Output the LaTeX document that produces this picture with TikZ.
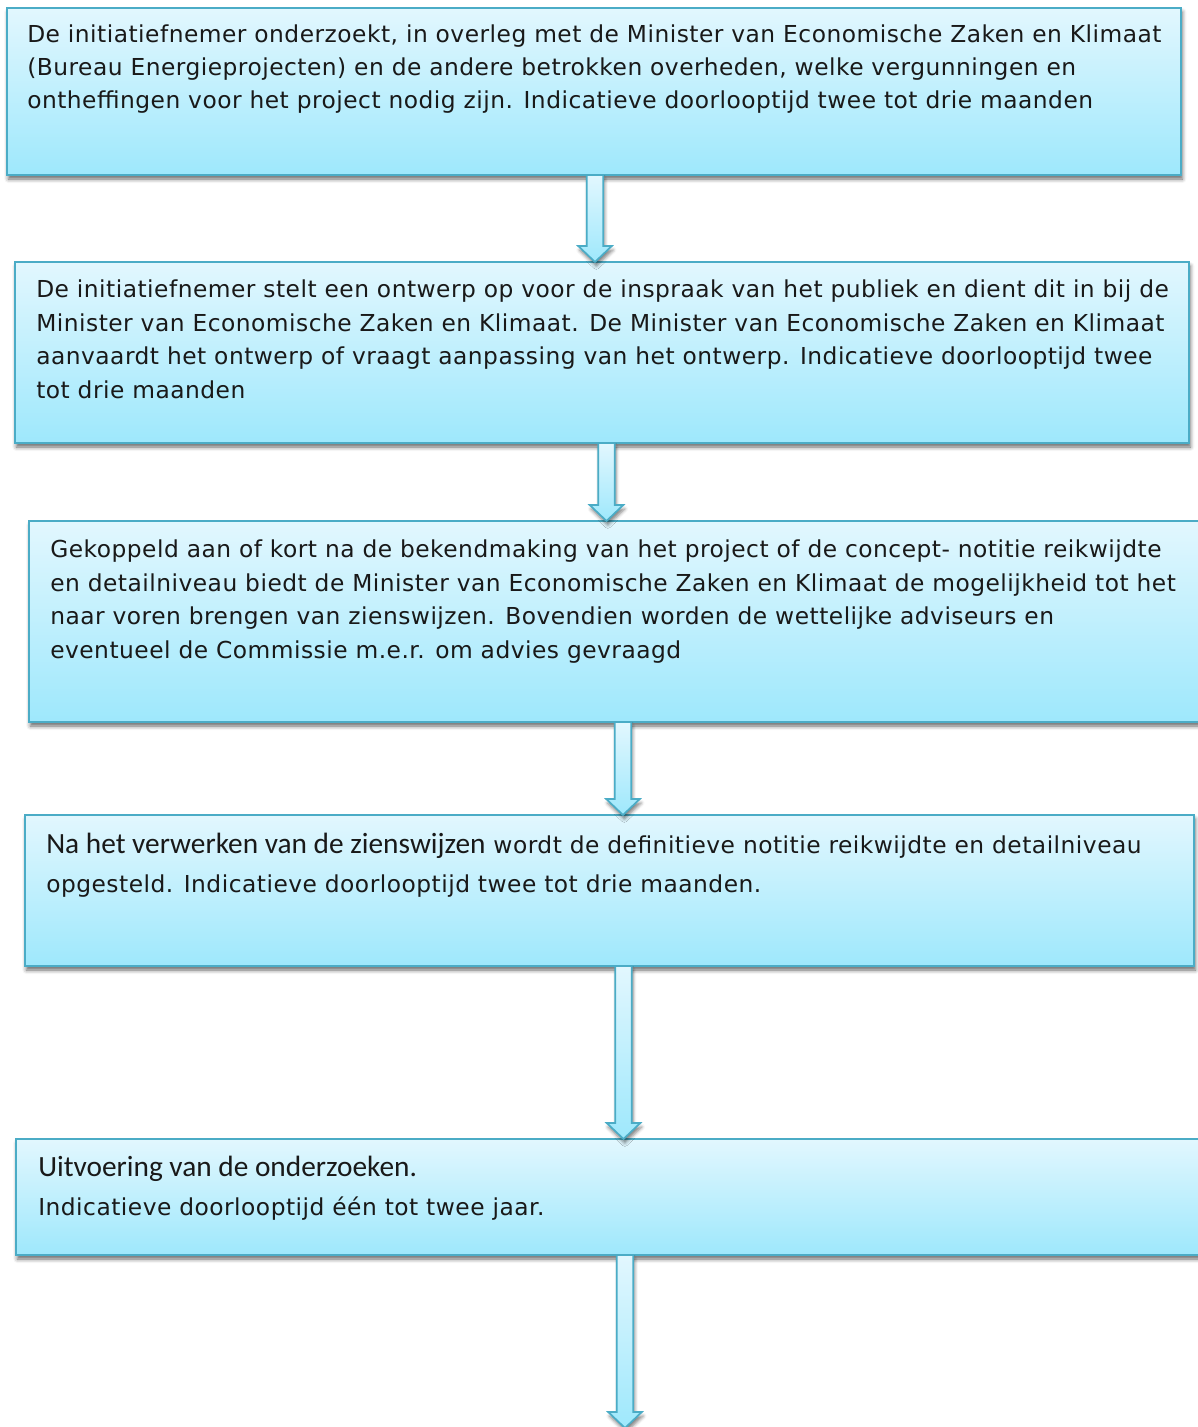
\documentclass[tikz,border=0pt]{standalone}
\usepackage{fontspec}
\setmainfont[LetterSpace=2.1]{DejaVu Sans}
\newfontfamily\calfont{Carlito}
\usetikzlibrary{calc,shadows.blur}
\definecolor{boxtop}{RGB}{226,247,254}
\definecolor{boxbot}{RGB}{158,232,252}
\definecolor{bordc}{RGB}{75,172,198}
\newcommand\blockarrow[2]{%
  \path[arrowbox] let \p1=#1, \p2=#2 in
    (\x1-6.2pt,\y1) -- (\x1+6.2pt,\y1) -- (\x1+6.2pt,\y2+12pt) -- (\x1+12.6pt,\y2+12pt)
    -- (\x1,\y2) -- (\x1-12.6pt,\y2+12pt) -- (\x1-6.2pt,\y2+12pt) -- cycle;}
\begin{document}
\begin{tikzpicture}[x=0.75pt,y=-0.75pt,
  box/.style={rectangle, draw=bordc, line width=1.3pt, top color=boxtop, bottom color=boxbot,
    inner sep=0pt, outer sep=0pt, anchor=north west,
    blur shadow={shadow xshift=1pt, shadow yshift=-3pt, shadow blur radius=3pt, shadow opacity=60}},
  arrowbox/.style={draw=bordc, line width=1.3pt, top color=boxtop, bottom color=boxbot, line join=miter,
    blur shadow={shadow xshift=1pt, shadow yshift=-3pt, shadow blur radius=2.5pt, shadow opacity=50}},
  txt/.style={anchor=base west, inner sep=0pt, align=left, text=black!90,
    font=\fontsize{17.5}{25.1}\selectfont},
  txtb/.style={txt, font=\fontsize{17.5}{29.25}\selectfont}]
\useasboundingbox (0,0) rectangle (1198,1427);
% boxes
\node[box, minimum width=1174*0.75pt, minimum height=167*0.75pt] (b1) at (7,8) {};
\node[box, minimum width=1174*0.75pt, minimum height=181*0.75pt] (b2) at (15,262) {};
\node[box, minimum width=1170*0.75pt, minimum height=201*0.75pt] (b3) at (29,521) {};
\node[box, minimum width=1169*0.75pt, minimum height=151*0.75pt] (b4) at (25,815) {};
\node[box, minimum width=1190*0.75pt, minimum height=116*0.75pt] (b5) at (16,1139) {};
% texts (anchored at the baseline of their last line)
\node[txt] (t1) at (27,109) {De initiatiefnemer onderzoekt, in overleg met de Minister van Economische Zaken en Klimaat\\
(Bureau Energieprojecten) en de andere betrokken overheden, welke vergunningen en\\
ontheffingen voor het project nodig zijn. Indicatieve doorlooptijd twee tot drie maanden};
\node[txt] (t2) at (36,398) {De initiatiefnemer stelt een ontwerp op voor de inspraak van het publiek en dient dit in bij de\\
Minister van Economische Zaken en Klimaat. De Minister van Economische Zaken en Klimaat\\
aanvaardt het ontwerp of vraagt aanpassing van het ontwerp. Indicatieve doorlooptijd twee\\
tot drie maanden};
\node[txt] (t3) at (50,658) {Gekoppeld aan of kort na de bekendmaking van het project of de concept- notitie reikwijdte\\
en detailniveau biedt de Minister van Economische Zaken en Klimaat de mogelijkheid tot het\\
naar voren brengen van zienswijzen. Bovendien worden de wettelijke adviseurs en\\
eventueel de Commissie m.e.r. om advies gevraagd};
\node[txtb] (t4) at (46,892) {{\calfont\fontsize{22}{29.25}\selectfont Na het verwerken van de zienswijzen} wordt de definitieve notitie reikwijdte en detailniveau\\
opgesteld. Indicatieve doorlooptijd twee tot drie maanden.};
\node[txtb] (t5) at (38,1215) {{\calfont\fontsize{22}{29.25}\selectfont Uitvoering van de onderzoeken.}\\
Indicatieve doorlooptijd één tot twee jaar.};
% arrow axes
\coordinate (ax1) at (595,0);
\coordinate (ax2) at (606.5,0);
\coordinate (ax3) at (623,0);
\coordinate (ax4) at (623.5,0);
\coordinate (ax5) at (625,0);
\coordinate (end5) at (625,1428);
\blockarrow{(b1.south -| ax1)}{(b2.north -| ax1)}
\blockarrow{(b2.south -| ax2)}{(b3.north -| ax2)}
\blockarrow{(b3.south -| ax3)}{(b4.north -| ax3)}
\blockarrow{(b4.south -| ax4)}{(b5.north -| ax4)}
\blockarrow{(b5.south -| ax5)}{(end5)}
\end{tikzpicture}
\end{document}
